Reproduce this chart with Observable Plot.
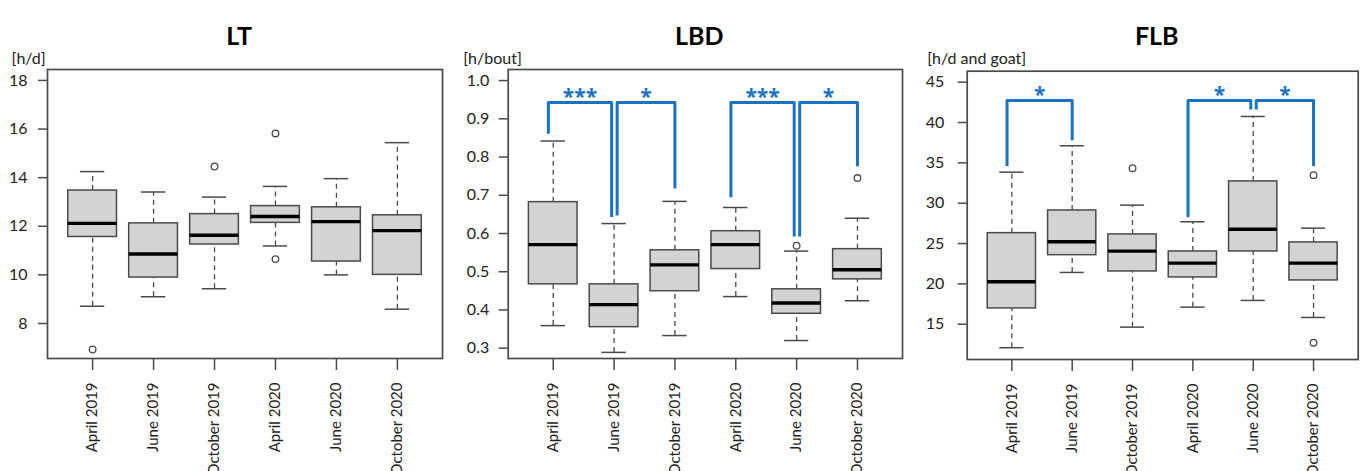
<!DOCTYPE html>
<html>
<head>
<meta charset="utf-8">
<script src="https://cdn.jsdelivr.net/npm/d3@7"></script>
<script src="https://cdn.jsdelivr.net/npm/@observablehq/plot@0.6"></script>
<style>
  html, body { margin: 0; padding: 0; background: white; }
  #root { position: relative; width: 1363px; height: 471px; overflow: hidden; background: white; }
  #root svg { position: absolute; top: 0; }
</style>
</head>
<body>
<div id="root"></div>
<script>
const categories = ["April 2019", "June 2019", "October 2019", "April 2020", "June 2020", "October 2020"];

// LT [h/d]
const ltLow  = [8.71, 9.10, 9.43, 11.19, 10.00, 8.59];
const ltQ1   = [11.56, 9.89, 11.25, 12.14, 10.55, 10.00];
const ltMed  = [12.12, 10.86, 11.63, 12.40, 12.19, 11.82];
const ltQ3   = [13.47, 12.12, 12.50, 12.83, 12.78, 12.45];
const ltHigh = [14.25, 13.41, 13.20, 13.64, 13.96, 15.44];
const ltOutliers = [["April 2019", 6.93], ["October 2019", 14.46], ["April 2020", 15.82], ["April 2020", 10.65]];
const ltTicks = [8, 10, 12, 14, 16, 18];

// LBD [h/bout]
const lbdLow  = [0.359, 0.289, 0.333, 0.435, 0.320, 0.424];
const lbdQ1   = [0.467, 0.355, 0.449, 0.507, 0.390, 0.480];
const lbdMed  = [0.571, 0.414, 0.518, 0.571, 0.418, 0.505];
const lbdQ3   = [0.682, 0.467, 0.556, 0.606, 0.454, 0.559];
const lbdHigh = [0.842, 0.626, 0.684, 0.668, 0.554, 0.640];
const lbdOutliers = [["June 2020", 0.568], ["October 2020", 0.745]];
const lbdTicks = [0.3, 0.4, 0.5, 0.6, 0.7, 0.8, 0.9, 1.0];
const lbdBrackets = [
  {from: "April 2019", to: "June 2019", label: "***", top: 0.943, left: 0.861, right: 0.643},
  {from: "June 2019", to: "October 2019", label: "*", top: 0.943, left: 0.647, right: 0.718},
  {from: "April 2020", to: "June 2020", label: "***", top: 0.943, left: 0.695, right: 0.592},
  {from: "June 2020", to: "October 2020", label: "*", top: 0.943, left: 0.592, right: 0.776}
];

// FLB [h/d and goat]
const flbLow  = [12.09, 21.42, 14.64, 17.12, 17.95, 15.84];
const flbQ1   = [16.96, 23.56, 21.54, 20.80, 24.02, 20.43];
const flbMed  = [20.27, 25.22, 24.06, 22.57, 26.78, 22.57];
const flbQ3   = [26.29, 29.10, 26.13, 24.02, 32.70, 25.14];
const flbHigh = [33.85, 37.12, 29.76, 27.70, 40.75, 26.91];
const flbOutliers = [["October 2019", 34.34], ["October 2020", 33.48], ["October 2020", 12.71]];
const flbTicks = [15, 20, 25, 30, 35, 40, 45];
const flbBrackets = [
  {from: "April 2019", to: "June 2019", label: "*", top: 42.73, left: 34.6, right: 37.8},
  {from: "April 2020", to: "June 2020", label: "*", top: 42.73, left: 28.27, right: 41.6},
  {from: "June 2020", to: "October 2020", label: "*", top: 42.73, left: 41.6, right: 34.6}
];

const BLUE = "#1a72c2";
const FONT = "Lato, 'Open Sans', sans-serif";
const idx = c => categories.indexOf(c) + 1;

function boxTable(low, q1, med, q3, high) {
  return categories.map((c, k) => ({cat: c, i: k + 1, low: low[k], q1: q1[k], med: med[k], q3: q3[k], high: high[k]}));
}

function bracketMarks(brackets) {
  if (!brackets) return [];
  const pts = [];
  const labels = [];
  brackets.forEach((b, k) => {
    const sharedLeft = brackets.some(o => o !== b && o.to === b.from);
    const sharedRight = brackets.some(o => o !== b && o.from === b.to);
    const lx = idx(b.from) + (sharedLeft ? 0.05 : -0.08);
    const rx = idx(b.to) + (sharedRight ? -0.04 : 0);
    pts.push({k, x: lx, y: b.left}, {k, x: lx, y: b.top}, {k, x: rx, y: b.top}, {k, x: rx, y: b.right});
    labels.push({x: (lx + rx) / 2, y: b.top, label: b.label});
  });
  return [
    Plot.line(pts, {x: "x", y: "y", z: "k", stroke: BLUE, strokeWidth: 3, strokeLinejoin: "round", strokeLinecap: "butt"}),
    Plot.text(labels, {x: "x", y: "y", text: "label", fill: BLUE, fontSize: 21, fontWeight: "bold", dy: -5, fontFamily: "'Open Sans', sans-serif"})
  ];
}

function panel(cfg) {
  const data = boxTable(...cfg.stats);
  const outs = cfg.outliers.map(([c, v]) => ({i: idx(c), v}));
  const chart = Plot.plot({
    width: cfg.width,
    height: 471,
    marginLeft: cfg.ml,
    marginRight: cfg.mr,
    marginTop: cfg.mt,
    marginBottom: 471 - cfg.bottom,
    style: {fontFamily: FONT, fontSize: "16px", color: "#222", background: "white", overflow: "visible"},
    x: {domain: [0.26, 6.74], axis: null},
    y: {domain: cfg.ydomain, axis: null},
    marks: [
      Plot.ruleX(data, {x: "i", y1: "q3", y2: "high", stroke: "#4a4a4a", strokeWidth: 1.3, strokeDasharray: "5,4"}),
      Plot.ruleX(data, {x: "i", y1: "low", y2: "q1", stroke: "#4a4a4a", strokeWidth: 1.3, strokeDasharray: "5,4"}),
      Plot.ruleY(data, {y: "high", x1: d => d.i - 0.2, x2: d => d.i + 0.2, stroke: "#4a4a4a", strokeWidth: 1.5}),
      Plot.ruleY(data, {y: "low", x1: d => d.i - 0.2, x2: d => d.i + 0.2, stroke: "#4a4a4a", strokeWidth: 1.5}),
      Plot.rect(data, {x1: d => d.i - 0.4, x2: d => d.i + 0.4, y1: "q1", y2: "q3", fill: "#d3d3d3", stroke: "#4a4a4a", strokeWidth: 1.5}),
      Plot.ruleY(data, {y: "med", x1: d => d.i - 0.4, x2: d => d.i + 0.4, stroke: "#000", strokeWidth: 3.4}),
      Plot.dot(outs, {x: "i", y: "v", r: 3.3, stroke: "#4a4a4a", strokeWidth: 1.3, fill: "none"}),
      ...bracketMarks(cfg.brackets),
      Plot.frame({stroke: "#4a4a4a", strokeWidth: 1.7}),
      Plot.axisY({ticks: cfg.ticks, tickFormat: cfg.fmt, tickSize: 9, tickPadding: cfg.pad, label: null, stroke: "#4a4a4a", strokeWidth: 1.5, fill: "#222", fontSize: 16}),
      Plot.axisX({ticks: [1, 2, 3, 4, 5, 6], tickFormat: i => categories[i - 1], tickRotate: -90, tickSize: 12, tickPadding: 12, label: null, stroke: "#4a4a4a", strokeWidth: 1.5, fill: "#222", fontSize: 15}),
      Plot.text([cfg.title], {frameAnchor: "top", text: d => d, dy: -(cfg.mt - 27), dx: -6, fontSize: 25, fontWeight: "bold", fill: "#000"}),
      Plot.text([cfg.unit], {frameAnchor: "top-left", text: d => d, textAnchor: "start", dx: cfg.unitDx, dy: -(cfg.mt - 52), fontSize: 16, fill: "#222"})
    ]
  });
  chart.style.left = cfg.left + "px";
  document.getElementById("root").appendChild(chart);
}

panel({title: "LT", unit: "[h/d]", left: 0, width: 450, ml: 47, mr: 8, mt: 69, bottom: 358,
  ydomain: [6.56, 18.45], ticks: ltTicks, fmt: d3.format("d"), pad: 11, unitDx: -36,
  stats: [ltLow, ltQ1, ltMed, ltQ3, ltHigh], outliers: ltOutliers});
panel({title: "LBD", unit: "[h/bout]", left: 450, width: 460, ml: 57.7, mr: 8, mt: 69, bottom: 358,
  ydomain: [0.273, 1.029], ticks: lbdTicks, fmt: d3.format(".1f"), pad: 10, unitDx: -45,
  stats: [lbdLow, lbdQ1, lbdMed, lbdQ3, lbdHigh], outliers: lbdOutliers, brackets: lbdBrackets});
panel({title: "FLB", unit: "[h/d and goat]", left: 905, width: 458, ml: 61.7, mr: 5.3, mt: 70.7, bottom: 359,
  ydomain: [10.63, 46.36], ticks: flbTicks, fmt: d3.format("d"), pad: 14, unitDx: -40,
  stats: [flbLow, flbQ1, flbMed, flbQ3, flbHigh], outliers: flbOutliers, brackets: flbBrackets});
</script>
</body>
</html>
